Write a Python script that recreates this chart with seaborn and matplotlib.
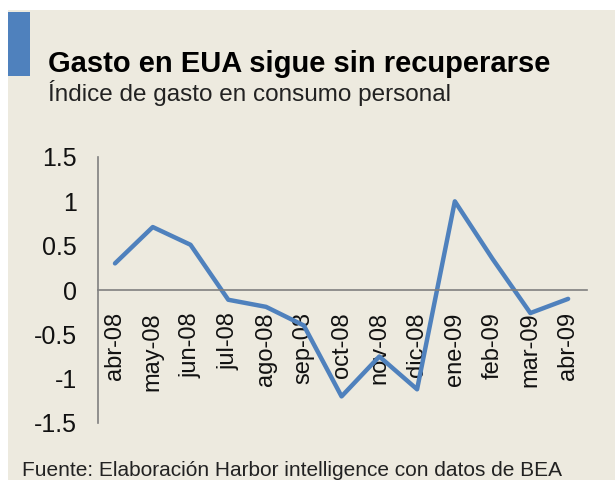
import matplotlib.pyplot as plt
import pandas as pd
import seaborn as sns
from matplotlib.patches import Rectangle

# Data
MONTHS = ['abr-08', 'may-08', 'jun-08', 'jul-08', 'ago-08', 'sep-08', 'oct-08',
          'nov-08', 'dic-08', 'ene-09', 'feb-09', 'mar-09', 'abr-09']
INDEX = [0.3, 0.71, 0.51, -0.11, -0.19, -0.4, -1.2,
         -0.75, -1.12, 1.0, 0.35, -0.26, -0.1]
Y_TICKS = [-1.5, -1, -0.5, 0, 0.5, 1, 1.5]

TITLE = "Gasto en EUA sigue sin recuperarse"
SUBTITLE = "Índice de gasto en consumo personal"
SOURCE = "Fuente: Elaboración Harbor intelligence con datos de BEA"

BG = '#EDEADF'
BLUE = '#4F81BD'

sns.set_style('white')
plt.rcParams['font.family'] = ['Liberation Sans', 'DejaVu Sans']

df = pd.DataFrame({'month': MONTHS, 'value': INDEX})

fig = plt.figure(figsize=(6.15, 4.8), dpi=100)
fig.patch.set_facecolor('white')

# beige panel with white margin at top/left
fig.add_artist(Rectangle((8 / 615, 0), 1, 1 - 10 / 480, transform=fig.transFigure,
                         facecolor=BG, edgecolor='none', zorder=0))
# blue accent bar
fig.add_artist(Rectangle((8 / 615, 1 - 76 / 480), 22 / 615, 64 / 480,
                         transform=fig.transFigure, facecolor=BLUE,
                         edgecolor='none', zorder=1))

fig.text(48 / 615, 1 - 72 / 480, TITLE, fontsize=21, fontweight='bold',
         color='black', va='baseline')
fig.text(48 / 615, 1 - 101 / 480, SUBTITLE, fontsize=17.5,
         color='#222222', va='baseline')
fig.text(22 / 615, 1 - 476 / 480, SOURCE, fontsize=15,
         color='#222222', va='baseline')

ax = fig.add_axes([98 / 615, 1 - 423 / 480, 489 / 615, 266 / 480])
ax.set_facecolor('none')

sns.lineplot(data=df, x='month', y='value', sort=False, color=BLUE,
             linewidth=3.2, ax=ax)

ax.set_ylim(-1.5, 1.5)
ax.set_xlim(-0.45, 12.5)
ax.set_yticks(Y_TICKS)
ax.set_yticklabels([f'{t:g}' for t in Y_TICKS])
ax.set_xlabel('')
ax.set_ylabel('')

# Excel-like axes: x axis crosses at zero
for side in ['top', 'right']:
    ax.spines[side].set_visible(False)
ax.spines['bottom'].set_position(('data', 0))
ax.spines['bottom'].set_color('#808080')
ax.spines['left'].set_color('#808080')
ax.spines['bottom'].set_linewidth(1.2)
ax.spines['left'].set_linewidth(1.2)

ax.tick_params(axis='x', length=0, pad=16, labelsize=17, rotation=90,
               labelcolor='#111111')
ax.tick_params(axis='y', length=0, pad=15, labelsize=18, labelcolor='#111111')
for lbl in ax.get_xticklabels():
    lbl.set_va('top')

fig.savefig('out.png', dpi=100, facecolor=fig.get_facecolor())
